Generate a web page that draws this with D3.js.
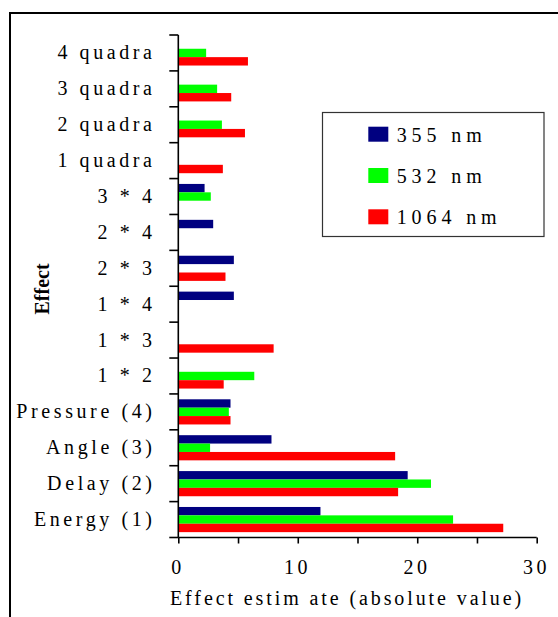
<!DOCTYPE html>
<html>
<head>
<meta charset="utf-8">
<script src="https://cdn.jsdelivr.net/npm/d3@7/dist/d3.min.js"></script>
<style>
  html, body { margin: 0; padding: 0; background: #fff; }
  svg { display: block; }
  text { font-family: "Liberation Serif", "Times New Roman", serif; fill: #000; }
</style>
</head>
<body>
<script>
// ---- data ----
const categories = ["4 quadra", "3 quadra", "2 quadra", "1 quadra", "3 * 4", "2 * 4", "2 * 3",
  "1 * 4", "1 * 3", "1 * 2", "Pressure (4)", "Angle (3)", "Delay (2)", "Energy (1)"];
const seriesNames = ["355 nm", "532 nm", "1064 nm"];
const values355  = [null, null, null, null, 2.2, 2.92, 4.65, 4.65, null, null, 4.37, 7.8, 19.2, 11.9];
const values532  = [2.33, 3.25, 3.65, null, 2.72, null, null, null, null, 6.36, 4.23, 2.66, 21.15, 23.0];
const values1064 = [5.83, 4.43, 5.58, 3.73, null, null, 3.95, null, 7.98, 3.8, 4.37, 18.15, 18.4, 27.2];
const xTicks = [0, 10, 20, 30];
const colors = ["#000080", "#00ff00", "#ff0000"];

const seriesValues = [values355, values532, values1064];

const W = 558, H = 617;
const svg = d3.select("body").append("svg").attr("width", W).attr("height", H);

// frame (top and left lines)
svg.append("line").attr("x1", 10).attr("y1", 13).attr("x2", W).attr("y2", 13)
  .attr("stroke", "#000").attr("stroke-width", 2);
svg.append("line").attr("x1", 10).attr("y1", 12).attr("x2", 10).attr("y2", H)
  .attr("stroke", "#000").attr("stroke-width", 2);

const x = d3.scaleLinear().domain([0, 30]).range([178.3, 536.7]);
const y = d3.scaleBand().domain(categories).range([35, 537.5]).paddingInner(0).paddingOuter(0);
const ySub = d3.scaleBand().domain(seriesNames).range([0, y.bandwidth()])
  .paddingInner(0).paddingOuter(0.64);

// bars
const barData = [];
categories.forEach((c, i) => {
  seriesNames.forEach((s, j) => {
    const v = seriesValues[j][i];
    if (v != null) barData.push({ c, s, v, color: colors[j] });
  });
});
svg.append("g").selectAll("rect").data(barData).join("rect")
  .attr("x", x(0))
  .attr("y", d => y(d.c) + ySub(d.s))
  .attr("width", d => x(d.v) - x(0))
  .attr("height", ySub.bandwidth())
  .attr("fill", d => d.color);

// y axis line + ticks at category boundaries
const yAxisG = svg.append("g");
yAxisG.append("line").attr("x1", x(0)).attr("x2", x(0)).attr("y1", y.range()[0]).attr("y2", y.range()[1])
  .attr("stroke", "#000").attr("stroke-width", 1.6);
const boundaries = categories.map(c => y(c)).concat([y.range()[1]]);
yAxisG.selectAll("line.tk").data(boundaries).join("line").attr("class", "tk")
  .attr("x1", x(0) - 9).attr("x2", x(0)).attr("y1", d => d).attr("y2", d => d)
  .attr("stroke", "#000").attr("stroke-width", 1.6);

const LS = 3.6;
yAxisG.selectAll("text").data(categories).join("text")
  .attr("x", 152 + LS)
  .attr("y", d => y(d) + y.bandwidth() / 2 + 6.5)
  .attr("text-anchor", "end")
  .attr("font-size", 20)
  .attr("letter-spacing", LS)
  .text(d => d);

// x axis
const xAxis = d3.axisBottom(x).tickValues(d3.range(0, 31, 5)).tickSize(6).tickFormat("");
const xg = svg.append("g").attr("transform", `translate(0,${y.range()[1]})`).call(xAxis);
xg.select(".domain").attr("stroke-width", 1.6).attr("d", `M${x(0)},0H${x(30)}`);
xg.selectAll(".tick line").attr("stroke-width", 1.6);

svg.append("g").selectAll("text").data(xTicks).join("text")
  .attr("x", d => x(d) + LS / 2 - 2)
  .attr("y", 573.5)
  .attr("text-anchor", "middle")
  .attr("font-size", 20)
  .attr("letter-spacing", LS)
  .text(d => d);

svg.append("text")
  .attr("x", 170).attr("y", 605)
  .attr("font-size", 20)
  .attr("letter-spacing", 2.9)
  .text("Effect estim ate (absolute value)");

svg.append("text")
  .attr("transform", "translate(49,289) rotate(-90)")
  .attr("text-anchor", "middle")
  .attr("font-size", 20)
  .attr("font-weight", "bold")
  .text("Effect");

// legend
const lg = svg.append("g");
lg.append("rect").attr("x", 322.5).attr("y", 112.5).attr("width", 221.5).attr("height", 124)
  .attr("fill", "#fff").attr("stroke", "#333").attr("stroke-width", 1.2);
seriesNames.forEach((s, j) => {
  const yy = 126.7 + j * 41.3;
  lg.append("rect").attr("x", 368.3).attr("y", yy).attr("width", 20).attr("height", 15)
    .attr("fill", colors[j]);
  lg.append("text").attr("x", 396.7).attr("y", yy + 15)
    .attr("font-size", 20).attr("letter-spacing", 4.9).text(s);
});
</script>
</body>
</html>
